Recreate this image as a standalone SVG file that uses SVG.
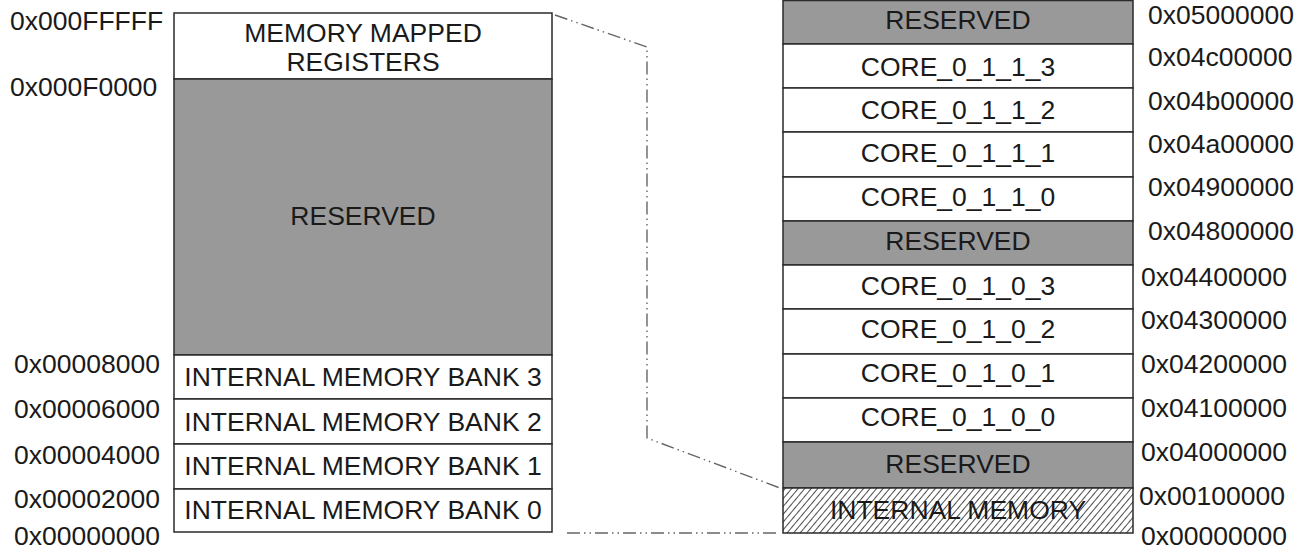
<svg xmlns="http://www.w3.org/2000/svg" width="1306" height="549" viewBox="0 0 1306 549">
  <style>
    text { font-family: "Liberation Sans", Arial, sans-serif; font-size: 26.5px; fill: #1a1a1a; }
    .c { text-anchor: middle; }
    .white { fill: #ffffff; stroke: #2a2a2a; stroke-width: 1.5; }
    .grey { fill: #999999; stroke: #2a2a2a; stroke-width: 1.5; }
    .hatch { fill: url(#hatch); stroke: #2a2a2a; stroke-width: 1.5; }
    .link { fill: none; stroke: #666666; stroke-width: 1.4; stroke-dasharray: 13 4 1.5 4 1.5 4; }
  </style>
  <defs>
    <pattern id="hatch" patternUnits="userSpaceOnUse" width="5" height="5" patternTransform="rotate(40)">
      <rect width="5" height="5" fill="#ffffff"/>
      <line x1="0" y1="0" x2="0" y2="5" stroke="#111111" stroke-width="1.5"/>
    </pattern>
  </defs>

  <rect width="1306" height="549" fill="#ffffff"/>

  <!-- zoom-out connector lines -->
  <g id="connectors">
    <polyline class="link" points="555,15 647,47 647,438 780,488"/>
    <line class="link" x1="567" y1="533" x2="780" y2="533"/>
  </g>

  <!-- left map: 0x00000000 - 0x000FFFFF -->
  <g id="left-mmr">
    <rect class="white" x="174" y="13" width="378" height="66"/>
    <text class="c" x="363" y="42">MEMORY MAPPED</text>
    <text class="c" x="363" y="71">REGISTERS</text>
  </g>
  <g id="left-reserved">
    <rect class="grey" x="174" y="79" width="378" height="276"/>
    <text class="c" x="363" y="225">RESERVED</text>
  </g>
  <g id="left-bank3">
    <rect class="white" x="174" y="355" width="378" height="44"/>
    <text class="c" x="363" y="386">INTERNAL MEMORY BANK 3</text>
  </g>
  <g id="left-bank2">
    <rect class="white" x="174" y="399" width="378" height="45"/>
    <text class="c" x="363" y="431">INTERNAL MEMORY BANK 2</text>
  </g>
  <g id="left-bank1">
    <rect class="white" x="174" y="444" width="378" height="45"/>
    <text class="c" x="363" y="475">INTERNAL MEMORY BANK 1</text>
  </g>
  <g id="left-bank0">
    <rect class="white" x="174" y="489" width="378" height="43"/>
    <text class="c" x="363" y="519">INTERNAL MEMORY BANK 0</text>
  </g>

  <g id="left-addresses">
    <text x="10" y="30">0x000FFFFF</text>
    <text x="10" y="96">0x000F0000</text>
    <text x="14" y="373">0x00008000</text>
    <text x="14" y="418">0x00006000</text>
    <text x="14" y="464">0x00004000</text>
    <text x="14" y="508">0x00002000</text>
    <text x="14" y="545">0x00000000</text>
  </g>

  <!-- right map: 0x00000000 - 0x05000000 -->
  <g id="right-reserved-top">
    <rect class="grey" x="783" y="0.5" width="350" height="43.5"/>
    <text class="c" x="958" y="29">RESERVED</text>
  </g>
  <g id="core-0-1-1-3">
    <rect class="white" x="783" y="44" width="350" height="44"/>
    <text class="c" x="958" y="76">CORE_0_1_1_3</text>
  </g>
  <g id="core-0-1-1-2">
    <rect class="white" x="783" y="88" width="350" height="44"/>
    <text class="c" x="958" y="119">CORE_0_1_1_2</text>
  </g>
  <g id="core-0-1-1-1">
    <rect class="white" x="783" y="132" width="350" height="45"/>
    <text class="c" x="958" y="162">CORE_0_1_1_1</text>
  </g>
  <g id="core-0-1-1-0">
    <rect class="white" x="783" y="177" width="350" height="44"/>
    <text class="c" x="958" y="206">CORE_0_1_1_0</text>
  </g>
  <g id="right-reserved-mid">
    <rect class="grey" x="783" y="221" width="350" height="44"/>
    <text class="c" x="958" y="250">RESERVED</text>
  </g>
  <g id="core-0-1-0-3">
    <rect class="white" x="783" y="265" width="350" height="44"/>
    <text class="c" x="958" y="295">CORE_0_1_0_3</text>
  </g>
  <g id="core-0-1-0-2">
    <rect class="white" x="783" y="309" width="350" height="45"/>
    <text class="c" x="958" y="338">CORE_0_1_0_2</text>
  </g>
  <g id="core-0-1-0-1">
    <rect class="white" x="783" y="354" width="350" height="44"/>
    <text class="c" x="958" y="382">CORE_0_1_0_1</text>
  </g>
  <g id="core-0-1-0-0">
    <rect class="white" x="783" y="398" width="350" height="44"/>
    <text class="c" x="958" y="426">CORE_0_1_0_0</text>
  </g>
  <g id="right-reserved-low">
    <rect class="grey" x="783" y="442" width="350" height="46"/>
    <text class="c" x="958" y="473">RESERVED</text>
  </g>
  <g id="right-internal-memory">
    <rect class="hatch" x="783" y="488" width="350" height="45"/>
    <text class="c" x="958" y="519">INTERNAL MEMORY</text>
  </g>

  <g id="right-addresses">
    <text x="1148" y="24">0x05000000</text>
    <text x="1148" y="66">0x04c00000</text>
    <text x="1148" y="110">0x04b00000</text>
    <text x="1148" y="153">0x04a00000</text>
    <text x="1148" y="196">0x04900000</text>
    <text x="1148" y="240">0x04800000</text>
    <text x="1141" y="286">0x04400000</text>
    <text x="1141" y="329">0x04300000</text>
    <text x="1141" y="373">0x04200000</text>
    <text x="1141" y="417">0x04100000</text>
    <text x="1141" y="461">0x04000000</text>
    <text x="1139" y="505">0x00100000</text>
    <text x="1141" y="545">0x00000000</text>
  </g>
</svg>
